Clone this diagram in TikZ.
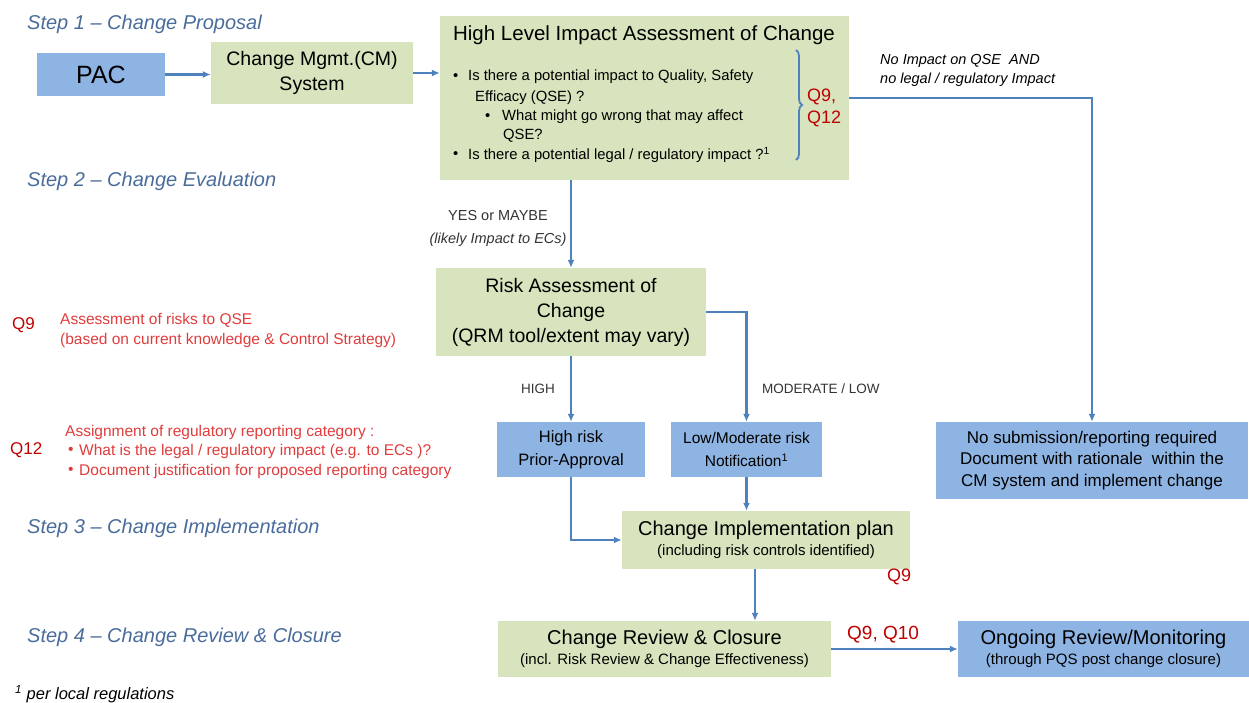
\documentclass[tikz,border=0pt]{standalone}
\usepackage{fontspec}
\setmainfont{Liberation Sans}
\usetikzlibrary{arrows.meta,decorations.pathreplacing}
\definecolor{gfill}{HTML}{D7E4BD}
\definecolor{bfill}{HTML}{8EB4E3}
\definecolor{arrc}{HTML}{4F81BD}
\definecolor{stepc}{HTML}{4A6C9B}
\definecolor{qred}{HTML}{C00000}
\definecolor{tred}{HTML}{E03C3C}
\newcommand{\myfs}[2]{\fontsize{#1}{#2}\selectfont}
\begin{document}
\begin{tikzpicture}[x=1pt,y=-1pt,
  gbox/.style={fill=gfill, draw=none, inner sep=0pt, align=center},
  bbox/.style={fill=bfill, draw=none, inner sep=0pt, align=center},
  arr/.style={draw=arrc, line width=2.2pt, -{Latex[length=8pt,width=7pt]}},
  steptxt/.style={anchor=west, inner sep=0pt, text=stepc, font=\myfs{20}{22}\itshape},
  plain/.style={anchor=west, inner sep=0pt},
  redtxt/.style={anchor=west, inner sep=0pt, text=tred, font=\myfs{15.5}{20}, align=left},
  qlab/.style={anchor=west, inner sep=0pt, text=qred, font=\myfs{17}{21}, align=left},
  lbl/.style={inner sep=0pt, text=black!80, font=\myfs{14.5}{23}}
]
\useasboundingbox (0,0) rectangle (1249,702);

% step titles
\node[steptxt] (s1) at (27,24) {Step 1 -- Change Proposal};
\node[steptxt] (s2) at (27,181) {Step 2 -- Change Evaluation};
\node[steptxt] (s3) at (27,528) {Step 3 -- Change Implementation};
\node[steptxt] (s4) at (27,637) {Step 4 -- Change Review \& Closure};
\node[plain, font=\myfs{16.5}{18}\itshape] (fn) at (15,694) {\textsuperscript{1} per local regulations};

% boxes
\node[bbox, minimum width=128, minimum height=43, font=\myfs{25}{28}] (pac) at (101,74.5) {PAC};
\node[gbox, minimum width=202, minimum height=62, font=\myfs{19.5}{25}] (cm) at (312,73) {Change Mgmt.(CM)\\System};
\node[gbox, minimum width=409, minimum height=164] (hl) at (644.5,98) {};
\node[gbox, minimum width=270, minimum height=88, font=\myfs{19.5}{25}] (risk) at (571,312) {Risk Assessment of\\Change\\(QRM tool/extent may vary)};
\node[bbox, minimum width=148, minimum height=55, font=\myfs{16.5}{23}] (high) at (571,449.5) {High risk\\Prior-Approval};
\node[bbox, minimum width=151, minimum height=55, font=\myfs{15.5}{23}] (low) at (746.5,449.5) {Low/Moderate risk\\Notification\textsuperscript{1}};
\node[bbox, minimum width=312, minimum height=77, font=\myfs{17}{21.5}] (nosub) at (1092,460.5) {No submission/reporting required\\Document with rationale\ \ within the\\CM system and implement change};
\node[gbox, minimum width=288, minimum height=58] (impl) at (766,540) {\myfs{20}{22}Change Implementation plan\\[4pt]\myfs{15}{17}(including risk controls identified)};
\node[gbox, minimum width=333, minimum height=56] (review) at (664.5,649) {\myfs{20}{22}Change Review \& Closure\\[4pt]\myfs{15}{17}(incl. Risk Review \& Change Effectiveness)};
\node[bbox, minimum width=291, minimum height=56] (ongo) at (1103.5,649) {\myfs{20}{22}Ongoing Review/Monitoring\\[4pt]\myfs{15}{17}(through PQS post change closure)};

% HL content
\node[inner sep=0pt, font=\myfs{20.5}{22}] (hlt) at (644,35) {High Level Impact Assessment of Change};
\begin{scope}[every node/.style={plain, font=\myfs{14.8}{16}}]
\node (hb1) at (453,77) {•};
\node (hl1) at (468,77) {Is there a potential impact to Quality, Safety};
\node (hl2) at (475,98) {Efficacy (QSE) ?};
\node (hb2) at (485,117) {•};
\node (hl3) at (502,117) {What might go wrong that may affect};
\node (hl4) at (503,136) {QSE?};
\node (hb3) at (453,155) {•};
\node (hl5) at (468,155) {Is there a potential legal / regulatory impact ?\textsuperscript{1}};
\end{scope}
\coordinate (brt) at (796,50);
\coordinate (brb) at (796,160);
\draw[arrc, line width=1.8pt, decorate, decoration={brace, amplitude=6pt}] (brt) -- (brb);
\node[qlab, font=\myfs{18}{22}] (q912) at (807,108) {Q9,\\Q12};

% side labels
\node[plain, font=\myfs{14.5}{19}\itshape, align=left] (noimp) at (880,70) {No Impact on QSE\ \ AND\\no legal / regulatory Impact};
\node[lbl, align=center] (yes) at (498,228) {YES or MAYBE\\\itshape(likely Impact to ECs)};
\node[lbl, font=\myfs{13.5}{16}] (hightxt) at (538,389) {HIGH};
\node[lbl, font=\myfs{13.5}{16}, anchor=west] (modtxt) at (762,389) {MODERATE / LOW};

% red notes
\node[qlab] (q9a) at (12,325) {Q9};
\node[redtxt] (n1) at (60,330) {Assessment of risks to QSE\\(based on current knowledge \& Control Strategy)};
\node[qlab] (q12a) at (10,450) {Q12};
\node[redtxt] (n2h) at (65,432) {Assignment of regulatory reporting category :};
\node[redtxt] (n2b1) at (68,451) {•};
\node[redtxt] (n2t1) at (79,451) {What is the legal / regulatory impact (e.g. to ECs )?};
\node[redtxt] (n2b2) at (68,471) {•};
\node[redtxt] (n2t2) at (79,471) {Document justification for proposed reporting category};
\node[qlab, font=\myfs{18}{22}] (q9b) at (887,577) {Q9};
\node[qlab, font=\myfs{19}{22}] (q910) at (847,635) {Q9, Q10};

% connectors
\draw[arr] (pac.east) -- (pac.east -| cm.west);
\draw[arr] (cm.east) -- (cm.east -| hl.west);
\draw[arr] (hl.east) -| (nosub.north);
\draw[arr] (risk.north |- hl.south) -- (risk.north);
\draw[arr] (risk.south) -- (high.north);
\draw[arr] (risk.east) -| (low.north);
\draw[arr] (high.south) |- (impl.west);
\draw[arr] (low.south) -- (low.south |- impl.north);
\draw[arr] ([xshift=-11pt]impl.south) -- ([xshift=-11pt]impl.south |- review.north);
\draw[arr] (review.east) -- (ongo.west);
\end{tikzpicture}
\end{document}
